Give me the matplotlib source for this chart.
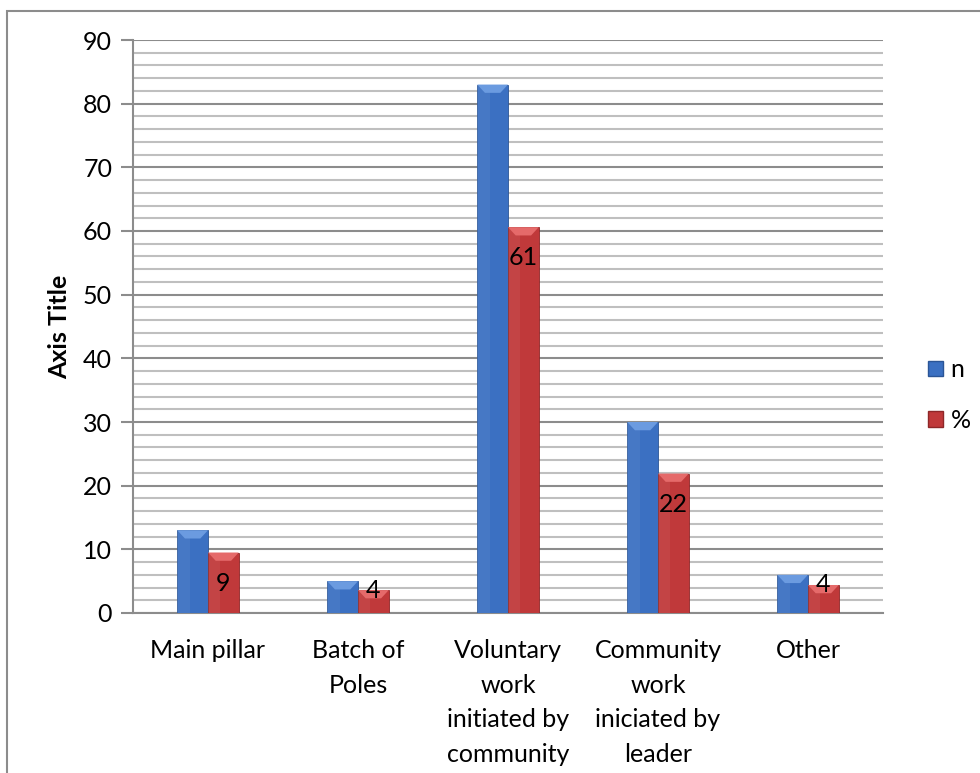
import matplotlib.pyplot as plt
import numpy as np
from matplotlib.patches import Polygon, Rectangle

plt.rcParams['font.family'] = ['Lato', 'DejaVu Sans']

categories = ['Main pillar', 'Batch of\nPoles', 'Voluntary\nwork\ninitiated by\ncommunity',
              'Community\nwork\niniciated by\nleader', 'Other']
n_values = [13, 5, 83, 30, 6]
pct_values = [9.5, 3.6, 60.6, 21.9, 4.4]
pct_labels = ['9', '4', '61', '22', '4']

BLUE = '#3b70c2'
BLUE_TOP = '#6b9be0'
BLUE_EDGE = '#2b5596'
RED = '#c0393a'
RED_TOP = '#e56a6a'
RED_EDGE = '#8e2728'
FS = 18


def bevel_bar(ax, x, h, w, color, top, edge):
    # flat bar plus a lighter bevelled cap, like Excel's 3D preset
    ax.bar(x, h, w, color=color, edgecolor=edge, linewidth=0.6, zorder=3)
    ax.bar(x - w * 0.3, h, w * 0.4, color='white', alpha=0.06, linewidth=0, zorder=3)
    bh = 1.3
    cap = [(x - w / 2, h), (x + w / 2, h), (x + w * 0.25, h - bh), (x - w * 0.25, h - bh)]
    ax.add_patch(Polygon(cap, closed=True, facecolor=top, edgecolor='none', zorder=4))


fig = plt.figure(figsize=(9.8, 7.73), dpi=100)
ax = fig.add_axes([133 / 980, 1 - 613 / 773, 750 / 980, 573 / 773])

# outer chart border (only top and left visible in the crop)
fig.patches.append(Rectangle((7 / 980, -0.1), 1.2, 1 - 11 / 773 + 0.1, transform=fig.transFigure,
                             fill=False, edgecolor='#8c8c8c', linewidth=1.5))

x = np.arange(len(categories))
w = 0.205
for i in x:
    bevel_bar(ax, i - w / 2, n_values[i], w, BLUE, BLUE_TOP, BLUE_EDGE)
    bevel_bar(ax, i + w / 2, pct_values[i], w, RED, RED_TOP, RED_EDGE)
    v = pct_values[i]
    dy = -22 if v > 8 else 0
    ax.annotate(pct_labels[i], (i + w / 2, v), xytext=(0, dy), textcoords='offset points',
                ha='center', va='center', fontsize=FS, zorder=5)

ax.set_xlim(-0.5, len(categories) - 0.5)
ax.set_ylim(0, 90)
ax.set_yticks(np.arange(0, 91, 10))
ax.set_yticks(np.arange(0, 91, 2), minor=True)
ax.grid(True, which='major', axis='y', color='#8c8c8c', linewidth=1.5, zorder=0)
ax.grid(True, which='minor', axis='y', color='#bfbfbf', linewidth=1.5, zorder=0)
ax.set_axisbelow(True)

for s in ['top', 'right']:
    ax.spines[s].set_visible(False)
ax.spines['left'].set_color('#8c8c8c')
ax.spines['left'].set_linewidth(1.5)
ax.spines['bottom'].set_color('#8c8c8c')
ax.spines['bottom'].set_linewidth(1.5)

ax.tick_params(axis='y', which='major', length=9, width=1.5, color='#8c8c8c',
               labelsize=FS, pad=6)
ax.tick_params(axis='y', which='minor', length=0)
ax.tick_params(axis='x', length=0, labelsize=FS, pad=19)
ax.set_xticks(x)
ax.set_xticklabels(categories, linespacing=1.6, va='top')

# axis title placed by hand at the reference position
fig.text(60 / 980, 1 - 327 / 773, 'Axis Title', rotation=90, fontsize=FS,
         fontweight='bold', ha='center', va='center')

# legend
handles = [Rectangle((0, 0), 1, 1, facecolor=BLUE, edgecolor=BLUE_EDGE),
           Rectangle((0, 0), 1, 1, facecolor=RED, edgecolor=RED_EDGE)]
fig.legend(handles, ['n', '%'], loc='center left', bbox_to_anchor=(918 / 980, 1 - 395 / 773),
           frameon=False, fontsize=FS, handlelength=0.6, handleheight=0.6,
           handletextpad=0.3, labelspacing=1.1, borderaxespad=0)

fig.savefig('out.png', dpi=100)
